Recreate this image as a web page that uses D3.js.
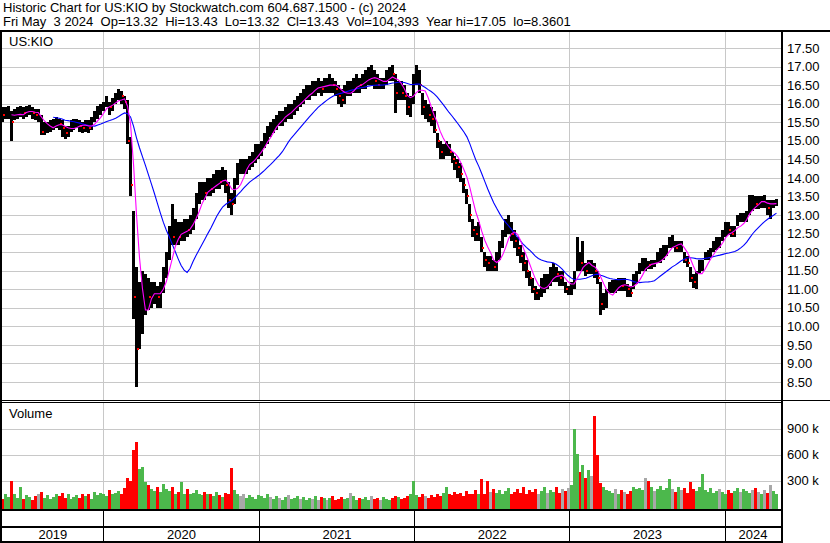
<!DOCTYPE html>
<html><head><meta charset="utf-8">
<script src="https://cdn.jsdelivr.net/npm/d3@7"></script>
<style>
body{margin:0;background:#fff}
svg{display:block}
text{font-family:"Liberation Sans",Arial,sans-serif;font-size:13px;fill:#000}
</style></head>
<body><svg id="c" width="830" height="543"></svg>
<script>
// ---------------- DATA (weekly) ----------------
const firstWeekEnd = new Date(2019, 4, 3);
const headerLine1 = "Historic Chart for US:KIO by Stockwatch.com 604.687.1500 - (c) 2024";
const headerLine2 = "Fri May  3 2024  Op=13.32  Hi=13.43  Lo=13.32  Cl=13.43  Vol=104,393  Year hi=17.05  lo=8.3601";
const symbolLabel = "US:KIO";
const priceTicks = [17.5,17.0,16.5,16.0,15.5,15.0,14.5,14.0,13.5,13.0,12.5,12.0,11.5,11.0,10.5,10.0,9.5,9.0,8.5];
const volumeTicks = [300,600,900];
const yearLabels = ["2019","2020","2021","2022","2023","2024"];

const priceHigh = [
16.0,15.9,15.9,15.95,15.8,15.85,15.9,15.95,15.9,15.95,
15.96,15.9,15.85,15.85,15.7,15.5,15.5,15.55,15.6,15.65,
15.6,15.55,15.4,15.4,15.55,15.6,15.6,15.55,15.5,15.55,
15.55,15.65,15.8,15.95,16.0,16.05,16.2,16.05,16.15,16.3,
16.4,16.35,16.2,
16.1,15.1,13.1,11.6,11.2,11.5,11.4,11.3,11.2,11.2,11.1,11.2,11.6,12.0,12.7,13.3,12.9,12.8,12.8,12.9,12.9,13.0,13.2,13.6,13.9,
13.9,13.9,14.0,14.0,14.1,14.2,14.2,14.3,14.2,13.9,13.6,14.0,
14.4,14.5,14.5,14.5,14.6,14.7,14.9,14.9,15.0,15.2,15.4,15.5,15.6,15.7,15.8,15.8,15.9,16.0,16.0,16.1,
16.2,16.3,16.4,16.5,16.5,16.6,16.6,16.7,16.6,16.7,16.7,16.8,16.7,16.6,16.5,16.4,16.5,16.6,16.6,16.7,
16.8,16.7,16.8,16.9,17.0,17.05,16.9,16.8,16.7,16.7,16.9,17.0,17.05,16.8,16.6,16.6,16.5,16.3,16.2,16.8,
17.05,16.9,16.3,16.1,16.0,15.9,15.8,15.2,15.0,14.9,15.0,14.9,14.7,14.6,14.5,14.4,14.0,13.7,13.3,12.9,
12.7,12.8,12.4,12.0,11.9,11.9,11.8,12.0,12.3,12.6,12.9,13.0,12.8,12.6,12.4,12.2,12.0,11.8,11.5,11.3,
11.1,11.0,11.3,11.4,11.4,11.6,11.7,11.6,11.5,11.5,11.2,11.1,11.2,11.5,12.4,12.0,12.3,11.7,11.8,11.8,
11.7,11.5,11.2,10.9,11.0,11.2,11.25,11.25,11.3,11.3,11.3,11.15,11.1,11.4,11.5,11.7,11.85,11.85,11.75,11.8,
11.8,12.0,12.1,12.2,12.2,12.4,12.45,12.3,12.3,12.3,12.0,11.9,11.6,11.4,11.5,11.8,11.8,12.0,12.05,12.1,
12.3,12.4,12.4,12.6,12.8,12.8,12.7,12.7,13.0,13.05,13.05,13.1,13.55,13.55,13.5,13.5,13.5,13.55,13.4,13.4,13.4,13.43
];
const priceLow = [
15.55,15.5,15.6,15.6,15.0,15.55,15.6,15.65,15.6,15.65,
15.7,15.6,15.55,15.5,15.15,15.15,15.2,15.25,15.3,15.35,
15.3,15.1,15.05,15.1,15.25,15.3,15.35,15.25,15.2,15.25,
15.2,15.3,15.5,15.6,15.7,15.8,15.9,15.7,15.8,16.0,
16.1,16.0,15.85,
14.9,13.5,10.2,8.36,9.4,9.8,10.3,10.45,10.5,10.6,10.5,10.5,10.9,11.3,11.8,12.2,12.2,12.2,12.3,12.3,12.4,12.5,12.6,12.9,13.3,
13.4,13.4,13.5,13.5,13.6,13.7,13.7,13.8,13.6,13.2,13.0,13.3,
13.8,14.1,14.1,14.1,14.2,14.3,14.4,14.5,14.6,14.8,14.9,15.1,15.2,15.3,15.4,15.4,15.5,15.6,15.6,15.7,
15.8,15.9,16.0,16.1,16.1,16.2,16.2,16.3,16.2,16.3,16.3,16.3,16.3,16.2,16.0,15.9,16.0,16.2,16.2,16.3,
16.3,16.3,16.4,16.4,16.5,16.5,16.4,16.4,16.4,16.4,16.5,16.6,16.6,15.75,16.1,16.1,16.1,15.7,15.65,16.0,
16.5,16.3,15.7,15.6,15.5,15.4,15.2,14.8,14.5,14.5,14.6,14.6,14.4,14.2,14.0,13.9,13.6,13.3,12.8,12.4,
12.3,12.3,12.0,11.6,11.5,11.5,11.5,11.5,11.8,12.1,12.4,12.5,12.3,12.1,11.9,11.7,11.5,11.3,11.1,10.9,
10.7,10.7,10.8,10.9,11.0,11.1,11.2,11.2,11.1,11.1,10.9,10.85,10.85,11.0,11.5,11.5,11.5,11.35,11.4,11.4,
11.3,11.15,10.3,10.45,10.5,10.9,10.9,10.9,10.95,10.95,10.95,10.8,10.8,11.0,11.15,11.4,11.5,11.5,11.55,11.55,
11.6,11.7,11.7,11.8,11.9,12.1,12.1,12.0,12.0,12.0,11.7,11.6,11.2,11.03,11.0,11.4,11.5,11.8,11.8,11.85,
12.0,12.05,12.1,12.3,12.4,12.45,12.4,12.4,12.7,12.8,12.8,12.8,13.0,13.1,13.15,13.15,13.2,13.2,13.0,12.9,13.2,13.25
];
const priceClose = [
15.75,15.7,15.75,15.8,15.5,15.7,15.75,15.8,15.75,15.8,
15.85,15.75,15.7,15.7,15.25,15.3,15.35,15.4,15.45,15.5,
15.45,15.35,15.2,15.25,15.4,15.45,15.5,15.4,15.35,15.4,
15.35,15.5,15.65,15.8,15.85,15.95,16.1,15.9,16.0,16.15,
16.25,16.2,16.05,
15.0,13.8,10.8,9.4,10.3,10.8,10.9,10.8,10.9,11.0,10.8,10.9,11.4,11.9,12.5,12.4,12.5,12.4,12.6,12.7,12.6,12.8,13.0,13.4,13.6,
13.7,13.6,13.8,13.7,13.9,14.0,13.9,14.1,13.8,13.4,13.3,13.8,
14.3,14.3,14.3,14.4,14.5,14.6,14.7,14.8,14.9,15.1,15.3,15.3,15.5,15.6,15.6,15.7,15.8,15.8,15.9,16.0,
16.1,16.1,16.2,16.3,16.4,16.4,16.5,16.5,16.4,16.5,16.5,16.6,16.5,16.4,16.2,16.1,16.3,16.4,16.4,16.5,
16.6,16.5,16.6,16.7,16.8,16.8,16.6,16.5,16.5,16.6,16.8,16.9,16.8,16.3,16.4,16.3,16.2,15.9,16.0,16.6,
16.8,16.5,15.9,15.9,15.7,15.6,15.3,15.0,14.7,14.8,14.9,14.7,14.5,14.4,14.3,14.1,13.8,13.5,13.0,12.6,
12.5,12.6,12.1,11.8,11.7,11.7,11.6,11.8,12.1,12.4,12.7,12.8,12.5,12.3,12.1,11.9,11.7,11.5,11.3,11.0,
10.9,10.9,11.1,11.2,11.2,11.4,11.5,11.4,11.3,11.3,11.0,11.0,11.1,11.3,12.0,11.7,11.8,11.5,11.6,11.6,
11.5,11.3,10.6,10.7,10.8,11.0,11.1,11.1,11.2,11.1,11.1,11.0,10.9,11.3,11.4,11.6,11.7,11.7,11.65,11.7,
11.7,11.8,11.9,12.0,12.1,12.3,12.3,12.1,12.2,12.2,11.8,11.7,11.3,11.2,11.3,11.6,11.7,11.9,11.95,12.0,
12.2,12.3,12.3,12.5,12.7,12.6,12.5,12.6,12.9,12.9,12.95,13.0,13.4,13.4,13.3,13.3,13.4,13.4,13.2,13.2,13.3,13.43
];
// typical daily volume for each week, thousands of shares
const volumeK = [
120,90,150,110,300, 140,100,230,90,130, 110,80,120,150,170, 100,130,90,110,150,
120,160,100,140,90, 110,130,100,150,120, 140,90,170,130,160, 150,120,190,140,160,
180,140,210,330,290, 650,750,430,460,280, 250,200,180,220,170, 260,200,180,230,150,
170,280,150,200,140, 160,190,150,130,170, 150,140,120,170,130, 110,160,140,450,190,
150,120,140,100,130, 110,90,130,120,100, 140,110,90,120,100, 80,110,130,90,100,
120,90,110,80,100, 90,120,80,110,100, 70,100,120,80,90, 110,90,100,160,120,
80,100,90,110,80, 120,90,100,80,110, 90,80,100,120,110, 90,100,120,140,290,
130,110,150,120,100, 130,110,140,120,160, 220,150,130,170,140, 160,120,180,140,150,
190,140,320,150,300, 170,200,160,190,150, 180,210,140,170,200, 160,230,150,190,170,
200,150,180,220,160, 190,170,230,160,200, 180,210,250,900,610, 400,480,330,420,350,
1040,590,270,220,190, 180,160,200,150,190, 170,140,180,230,200, 210,190,330,290,220,
180,200,240,190,210, 320,200,170,230,190, 210,160,280,200,180, 220,370,190,170,210,
160,180,200,170,150, 190,160,180,210,170, 200,180,160,190,210, 170,150,190,160,250,
180,140
];
const fastPeriod = 5;   // weeks (magenta)
const slowPeriod = 19;  // weeks (blue)

// ---------------- LAYOUT ----------------
const svg = d3.select("#c");
const plotL = 2, plotR = 781;
const priceTop = 32, priceBot = 400;
const volTop = 403, volBot = 509;

const x = d3.scaleTime().domain([new Date(2019,4,2), new Date(2024,4,14)]).range([0, 782]);
const y = d3.scaleLinear().domain([8.5, 17.5]).range([382, 48]);
const yv = d3.scaleLinear().domain([0, 900]).range([506.5, 428.5]);

const weeks = priceClose.map((c, i) => {
  const fri = d3.timeWeek.offset(firstWeekEnd, i);
  return {
    date: d3.timeDay.offset(fri, -2),
    hi: priceHigh[i], lo: priceLow[i], close: c,
    vol: volumeK[i],
    dir: i === 0 ? 0 : Math.sign(c - priceClose[i-1])
  };
});

function sma(arr, n){
  return arr.map((v, i) => i < n-1 ? null : d3.mean(arr.slice(i-n+1, i+1)));
}
const fastMA = sma(priceClose, fastPeriod);
const slowMA = sma(priceClose, slowPeriod);

svg.append("rect").attr("width",830).attr("height",543).attr("fill","#fff");

const defs = svg.append("defs");
defs.append("clipPath").attr("id","pc").append("rect")
  .attr("x",plotL).attr("y",priceTop).attr("width",plotR-plotL).attr("height",priceBot-priceTop);
defs.append("clipPath").attr("id","vc").append("rect")
  .attr("x",plotL).attr("y",volTop).attr("width",plotR-plotL).attr("height",volBot-volTop);

// grid
const grid = svg.append("g").attr("stroke","#c8c8c8").attr("stroke-width",1);
priceTicks.forEach(t => {
  const yy = Math.round(y(t)) + 0.5;
  grid.append("line").attr("x1",plotL).attr("x2",plotR).attr("y1",yy).attr("y2",yy);
});
volumeTicks.forEach(t => {
  const yy = Math.round(yv(t)) + 0.5;
  grid.append("line").attr("x1",plotL).attr("x2",plotR).attr("y1",yy).attr("y2",yy);
});
const yearStarts = yearLabels.slice(1).map(l => new Date(+l, 0, 1));
yearStarts.forEach(d => {
  const xx = Math.floor(x(d)) + 0.5;
  grid.append("line").attr("x1",xx).attr("x2",xx).attr("y1",priceTop).attr("y2",priceBot);
  grid.append("line").attr("x1",xx).attr("x2",xx).attr("y1",volTop).attr("y2",volBot);
});

// price bars
const pg = svg.append("g").attr("clip-path","url(#pc)");
pg.selectAll("rect.bar").data(weeks).join("rect").attr("class","bar")
  .attr("shape-rendering","crispEdges")
  .attr("x", d => Math.round(x(d.date) - 1.5)).attr("width", 3)
  .attr("y", d => y(d.hi)).attr("height", d => Math.max(1, y(d.lo) - y(d.hi)))
  .attr("fill","#000");
pg.selectAll("rect.cl").data(weeks.filter(d => d.dir < 0)).join("rect").attr("class","cl")
  .attr("shape-rendering","crispEdges")
  .attr("x", d => Math.round(x(d.date) + 0.5)).attr("width", 2)
  .attr("y", d => Math.round(y(d.close) - 1)).attr("height", 2)
  .attr("fill","#ff0000");

const lineGen = d3.line().defined(d => d[1] != null)
  .x(d => x(d[0])).y(d => y(d[1]));
pg.append("path").datum(weeks.map((d,i) => [d.date, slowMA[i]]))
  .attr("d", lineGen).attr("fill","none").attr("stroke","#0000ff").attr("stroke-width",1.1);
pg.append("path").datum(weeks.map((d,i) => [d.date, fastMA[i]]))
  .attr("d", lineGen).attr("fill","none").attr("stroke","#ff00ff").attr("stroke-width",1.1);

// volume bars
const vg = svg.append("g").attr("clip-path","url(#vc)");
vg.selectAll("rect").data(weeks).join("rect")
  .attr("shape-rendering","crispEdges")
  .attr("x", d => Math.round(x(d.date) - 1.5)).attr("width", 3)
  .attr("y", d => yv(d.vol)).attr("height", d => volBot - yv(d.vol))
  .attr("fill", d => d.dir > 0 ? "#4cb84c" : d.dir < 0 ? "#ff0000" : "#a8a8a8");

// axes labels
const pAxis = d3.axisRight(y).tickValues(priceTicks).tickFormat(d3.format(".2f")).tickSize(0).tickPadding(6);
const pa = svg.append("g").attr("transform",`translate(${plotR},0)`).call(pAxis);
const vAxis = d3.axisRight(yv).tickValues(volumeTicks).tickFormat(d => d + " k").tickSize(0).tickPadding(6);
const va = svg.append("g").attr("transform",`translate(${plotR},0)`).call(vAxis);
[pa, va].forEach(a => {
  a.select(".domain").remove();
  a.selectAll("text").attr("font-size",13).attr("font-family","Liberation Sans, Arial, sans-serif").attr("fill","#000");
});

// frames
const fr = svg.append("g").attr("fill","#000");
fr.append("rect").attr("x",0).attr("y",30).attr("width",830).attr("height",2);
fr.append("rect").attr("x",0).attr("y",30).attr("width",2).attr("height",513);
fr.append("rect").attr("x",781).attr("y",30).attr("width",2).attr("height",513);
fr.append("rect").attr("x",0).attr("y",400).attr("width",830).attr("height",1);
fr.append("rect").attr("x",0).attr("y",402).attr("width",782).attr("height",1);
fr.append("rect").attr("x",0).attr("y",509).attr("width",782).attr("height",2);
fr.append("rect").attr("x",0).attr("y",526).attr("width",782).attr("height",2);
fr.append("rect").attr("x",0).attr("y",541).attr("width",782).attr("height",2);
yearStarts.forEach(d => {
  const xx = Math.floor(x(d));
  fr.append("rect").attr("x",xx).attr("y",511).attr("width",1).attr("height",30);
});

// year labels
const bounds = [plotL, ...yearStarts.map(d => x(d)), plotR];
svg.append("g").selectAll("text").data(yearLabels).join("text")
  .attr("x", (d,i) => (bounds[i] + bounds[i+1]) / 2).attr("y", 539)
  .attr("text-anchor","middle").text(d => d);

// texts
svg.append("text").attr("x",3).attr("y",12).attr("xml:space","preserve").style("white-space","pre").text(headerLine1);
svg.append("text").attr("x",3).attr("y",26).attr("xml:space","preserve").style("white-space","pre").text(headerLine2);
svg.append("text").attr("x",9).attr("y",46).text(symbolLabel);
svg.append("text").attr("x",9).attr("y",418).text("Volume");
</script>
</body></html>
